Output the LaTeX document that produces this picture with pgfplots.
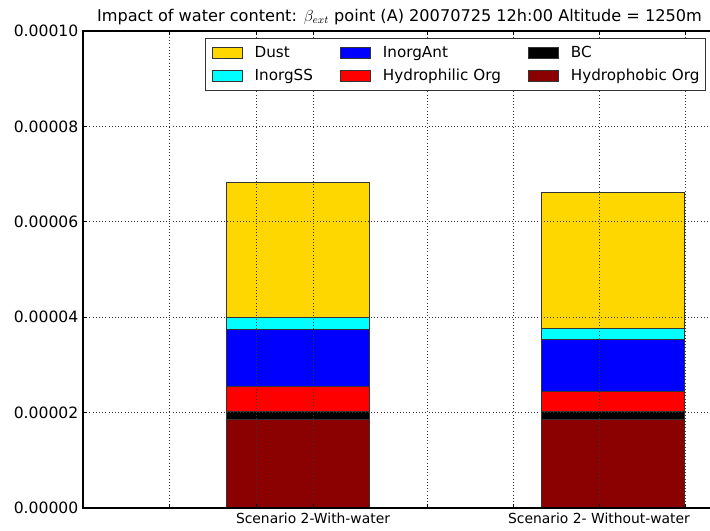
\documentclass[border=0pt]{standalone}
\usepackage{fontspec}
\setmainfont{DejaVu Sans}
\usepackage{pgfplots}
\pgfplotsset{compat=1.18}
\definecolor{dustc}{RGB}{255,215,0}
\definecolor{darkredc}{RGB}{139,0,0}
\definecolor{cyanc}{RGB}{0,255,255}
\definecolor{bluec}{RGB}{0,0,255}
\definecolor{redc}{RGB}{255,0,0}
\begin{document}
\begin{tikzpicture}
\begin{axis}[
  at={(0,0)}, anchor=south west,
  width=474.75pt, height=357.75pt, scale only axis,
  xmin=83, xmax=716, ymin=0, ymax=0.0001,
  ybar stacked, bar width=143,
  axis on top,
  xtick={169,256,313,427,513,599,685},
  xticklabels={,,Scenario 2-With-water,,,Scenario 2- Without-water,},
  ytick={0,0.00002,0.00004,0.00006,0.00008,0.0001},
  scaled y ticks=false,
  /pgf/number format/fixed,
  /pgf/number format/fixed zerofill,
  /pgf/number format/precision=5,
  /pgf/number format/assume math mode=true,
  yticklabel style={font=\fontsize{11.7}{14}\selectfont},
  xticklabel style={font=\fontsize{10.4}{12}\selectfont},
  grid=major, grid style={black!80, dotted, line width=0.45pt},
  major tick length=3pt,
  tick style={black, line width=0.6pt},
  axis line style={black, line width=0.8pt},
  title={Impact of water content: $\beta_{ext}$ point (A) 20070725 12h:00 Altitude = 1250m},
  title style={font=\fontsize{12.1}{14}\selectfont, yshift=-5pt},
  every axis plot/.append style={draw=black!80, line width=0.7pt},
  legend columns=3,
  legend cell align=left,
  legend image code/.code={\draw[#1] (0pt,-4.1pt) rectangle (22.5pt,4.1pt);},
  legend style={at={(rel axis cs:0.984,0.985)}, anchor=north east, draw=black!80, line width=0.7pt,
    font=\fontsize{11.4}{13}\selectfont,
    inner xsep=4.5pt, inner ysep=5.5pt, row sep=7.5pt,
    nodes={inner sep=0pt},
    /tikz/every odd column/.append style={column sep=9pt},
    /tikz/every even column/.append style={column sep=20.25pt}},
]
\addplot[fill=darkredc, forget plot] coordinates {(297.5,1.86e-5) (612.5,1.85e-5)};
\addplot[fill=black, forget plot] coordinates {(297.5,0.17e-5) (612.5,0.18e-5)};
\addplot[fill=redc, forget plot] coordinates {(297.5,0.517e-5) (612.5,0.405e-5)};
\addplot[fill=bluec, forget plot] coordinates {(297.5,1.202e-5) (612.5,1.097e-5)};
\addplot[fill=cyanc, forget plot] coordinates {(297.5,0.245e-5) (612.5,0.238e-5)};
\addplot[fill=dustc, forget plot] coordinates {(297.5,2.84e-5) (612.5,2.843e-5)};
\addlegendimage{fill=dustc, draw=black!80}\addlegendentry{Dust}
\addlegendimage{fill=bluec, draw=black!80}\addlegendentry{InorgAnt}
\addlegendimage{fill=black, draw=black!80}\addlegendentry{BC}
\addlegendimage{fill=cyanc, draw=black!80}\addlegendentry{InorgSS}
\addlegendimage{fill=redc, draw=black!80}\addlegendentry{Hydrophilic Org}
\addlegendimage{fill=darkredc, draw=black!80}\addlegendentry{Hydrophobic Org}
\end{axis}
\pgfresetboundingbox
\useasboundingbox (-62.25pt,-17.25pt) rectangle (470.25pt,381pt);
\end{tikzpicture}
\end{document}
